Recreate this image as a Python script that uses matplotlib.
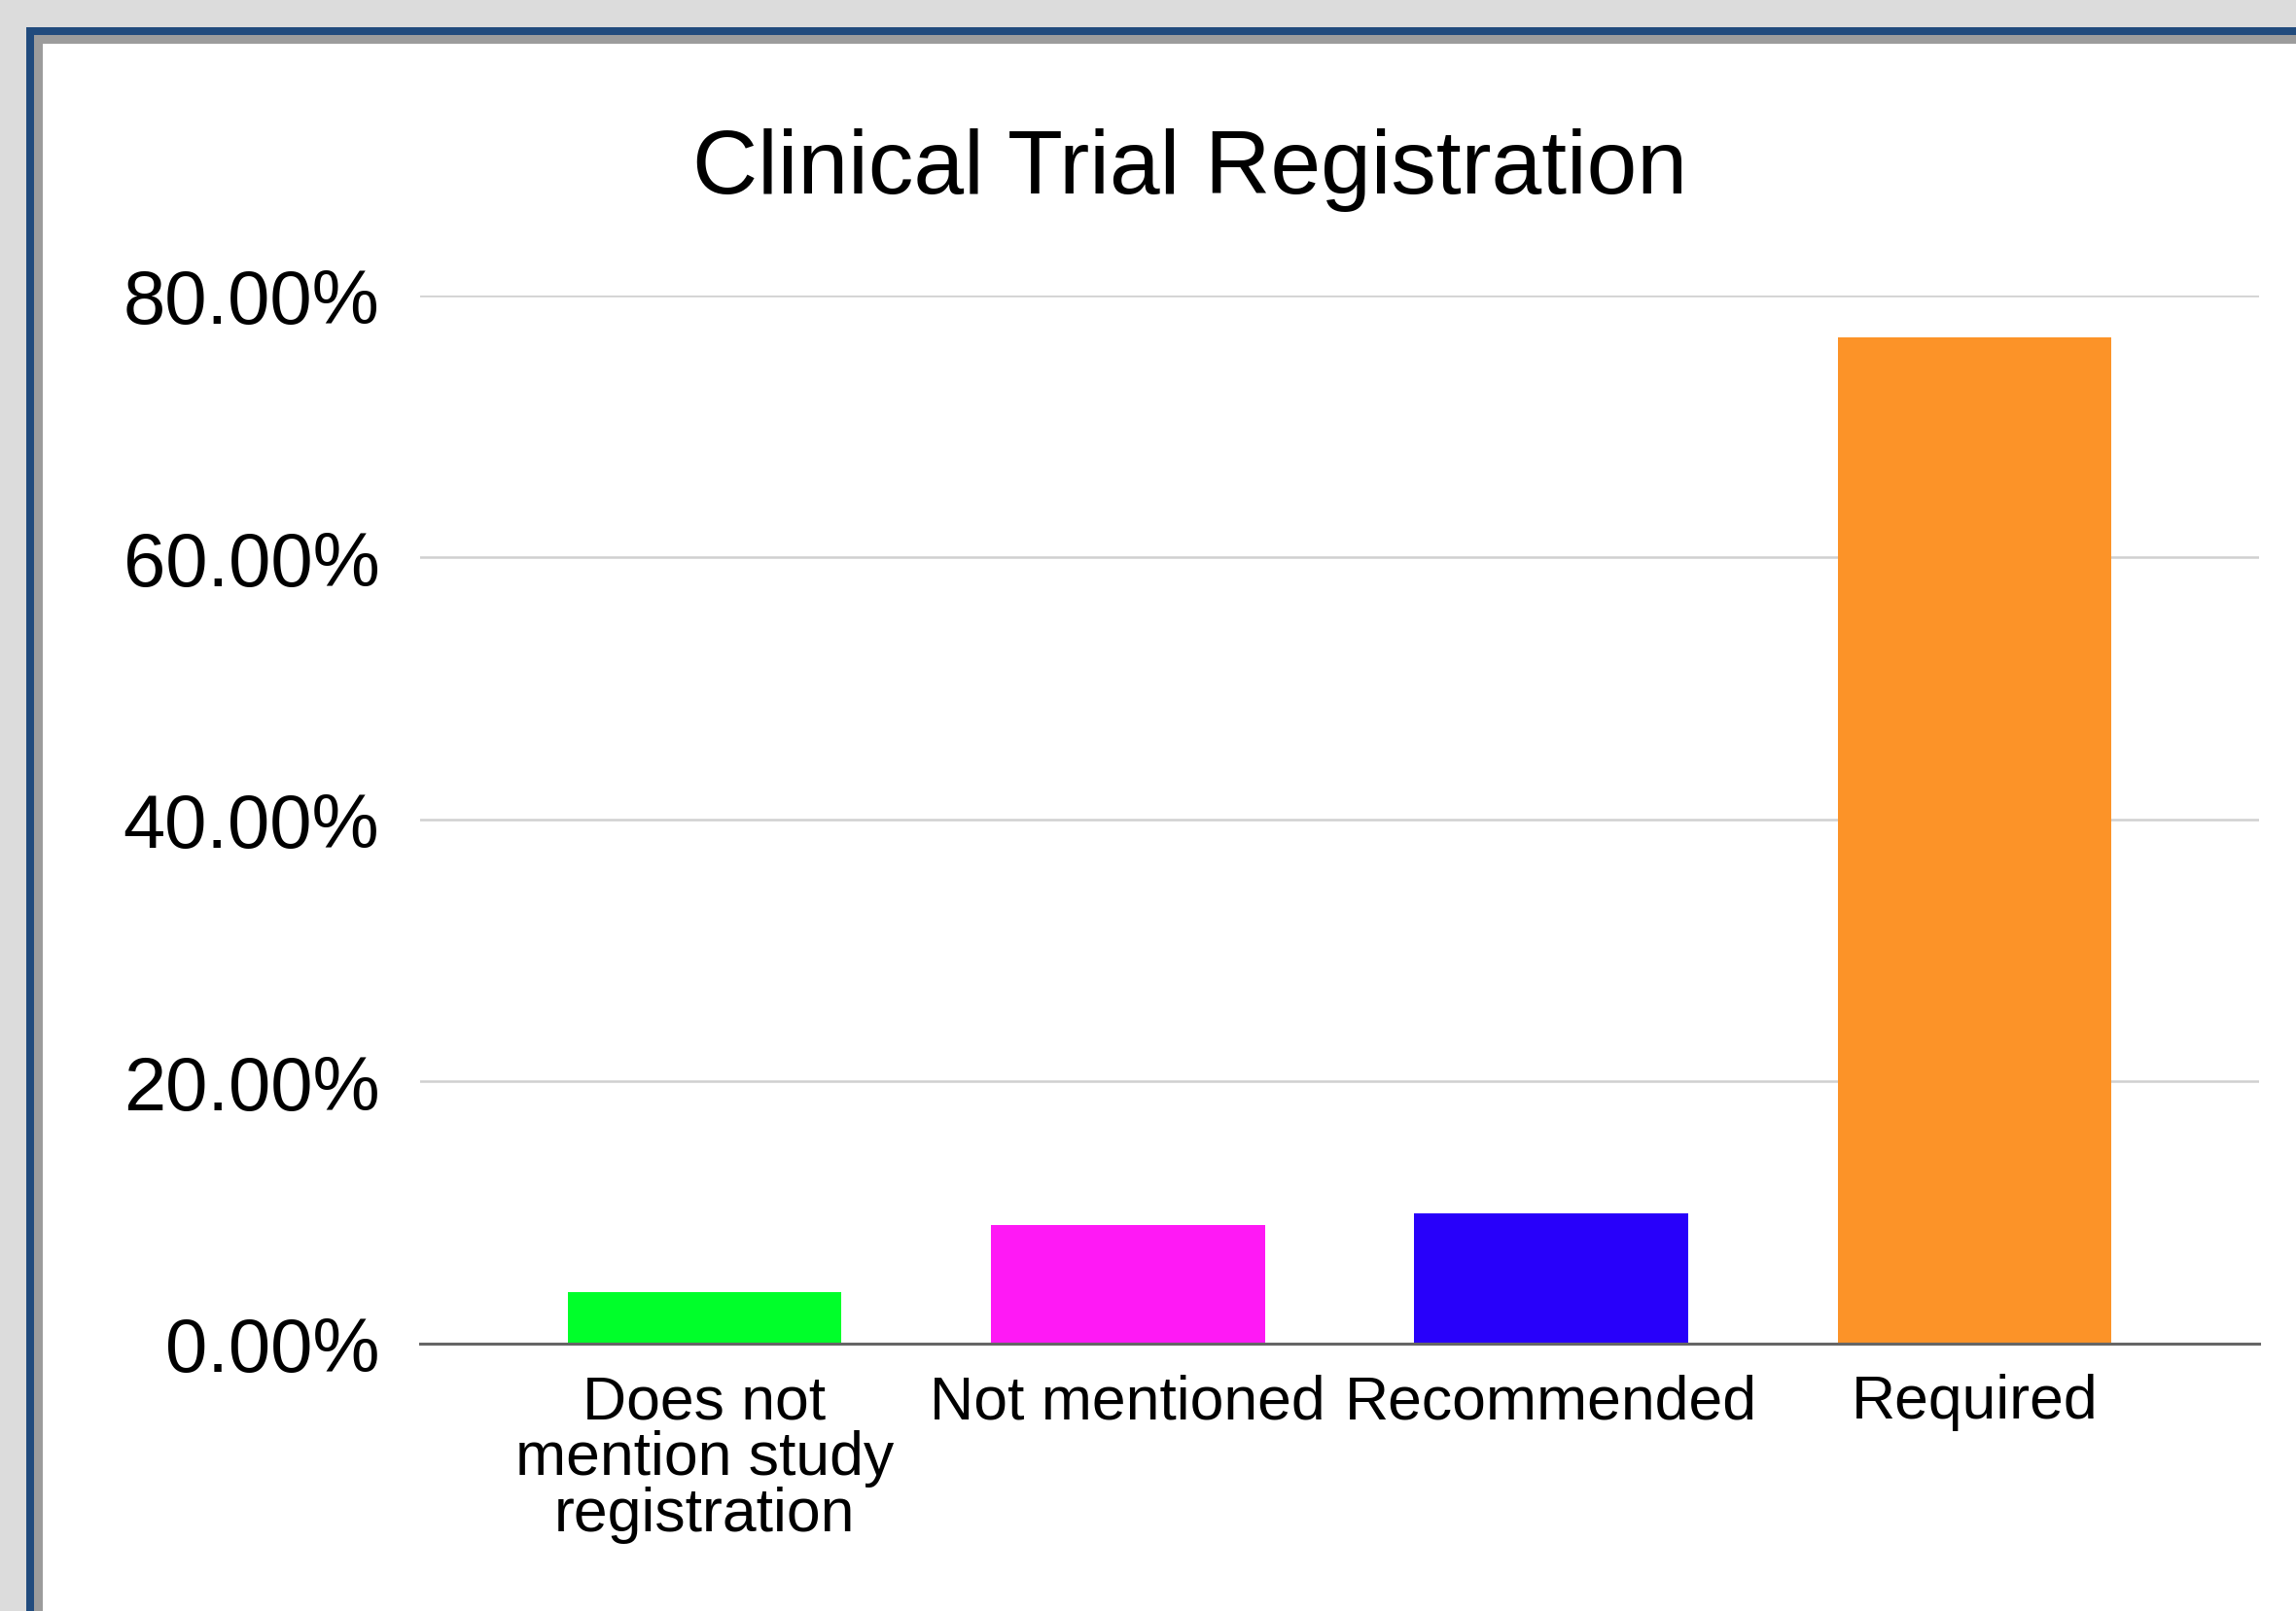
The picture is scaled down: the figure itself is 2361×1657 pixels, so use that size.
import matplotlib.pyplot as plt
from matplotlib.patches import Rectangle
from matplotlib.ticker import PercentFormatter

categories = ["Does not\nmention study\nregistration", "Not mentioned", "Recommended", "Required"]
shares = [3.9, 9.0, 9.9, 76.8]
bar_colors = ["#00ff2a", "#ff19f5", "#2800fa", "#fc9328"]
yticks = [0, 20, 40, 60, 80]

plt.rcParams['font.family'] = ['Liberation Sans', 'DejaVu Sans']

W, H = 2361, 1658
fig = plt.figure(figsize=(W / 100, H / 100), dpi=100, facecolor="#dcdcdc")

# window frame: blue edge, grey inner line, white page
fig.patches.append(Rectangle((27 / W, -0.1), 1.2, 1 - 29 / H + 0.1,
                             transform=fig.transFigure, facecolor="#214b7d",
                             edgecolor="none", zorder=-3))
fig.patches.append(Rectangle((35 / W, -0.1), 1.2, 1 - 37 / H + 0.1,
                             transform=fig.transFigure, facecolor="#9c9c9c",
                             edgecolor="none", zorder=-2))
fig.patches.append(Rectangle((44 / W, -0.1), 1.2, 1 - 46 / H + 0.1,
                             transform=fig.transFigure, facecolor="white",
                             edgecolor="none", zorder=-1))

left, right = 432 / W, 2323 / W
bottom, top = 1 - 1382.7 / H, 1 - 305 / H
ax = fig.add_axes([left, bottom, right - left, top - bottom])
ax.set_facecolor("none")

x = range(len(categories))
ax.bar(x, shares, width=0.647, color=bar_colors, zorder=3)

ax.set_xlim(-0.672, 3.672)
ax.set_ylim(0, 80)
ax.set_yticks(yticks)
ax.yaxis.set_major_formatter(PercentFormatter(decimals=2))
ax.set_xticks(list(x))
ax.set_xticklabels(categories, linespacing=0.98)
ax.tick_params(axis='y', length=0, pad=30, labelsize=56)
ax.tick_params(axis='x', length=0, pad=22, labelsize=45)

ax.grid(axis='y', color="#d0d0d0", linewidth=1.8, zorder=0)
for s in ['top', 'right', 'left']:
    ax.spines[s].set_visible(False)
ax.spines['bottom'].set_color("#666666")
ax.spines['bottom'].set_linewidth(2.2)
ax.spines['bottom'].set_zorder(4)

fig.text(1224 / W, 1 - 199 / H, "Clinical Trial Registration",
         ha='center', va='baseline', fontsize=67)

fig.savefig("out.png", dpi=100, facecolor=fig.get_facecolor())
